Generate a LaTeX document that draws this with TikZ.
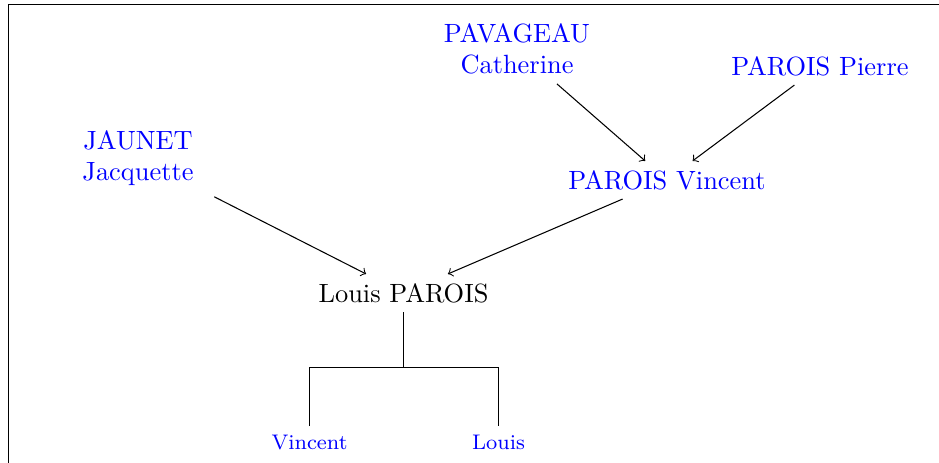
\documentclass[tikz,border=0pt]{standalone}
\begin{document}
\begin{tikzpicture}[x=0.379pt,y=-0.379pt,
  person/.style={text=blue, align=center},
  child/.style={text=blue, font=\footnotesize},
  link/.style={->}]
\useasboundingbox (0,0) rectangle (939,463);
\draw (8.5,463) -- (8.5,4.5) -- (939,4.5);
\node[person] (cat) at (517,49) {PAVAGEAU\\Catherine};
\node[person] (pie) at (820,66) {PAROIS Pierre};
\node[person, minimum width=58pt, minimum height=29pt] (jac) at (138,158) {JAUNET\\Jacquette};
\node[person] (vin) at (667,180) {PAROIS Vincent};
\node (lou) at (403.5,293) {Louis PAROIS};
\node[child, anchor=north] (c1) at (309.5,426) {Vincent};
\node[child, anchor=north] (c2) at (498.5,426) {Louis};
\coordinate (fork) at (403.5,367.5);
\draw[link] (cat) -- (vin);
\draw[link] (pie) -- (vin);
\draw[link] (jac) -- (lou);
\draw[link] (vin) -- (lou);
\draw (lou.south) -- (fork);
\draw (c1.north) |- (fork) -| (c2.north);
\end{tikzpicture}
\end{document}
